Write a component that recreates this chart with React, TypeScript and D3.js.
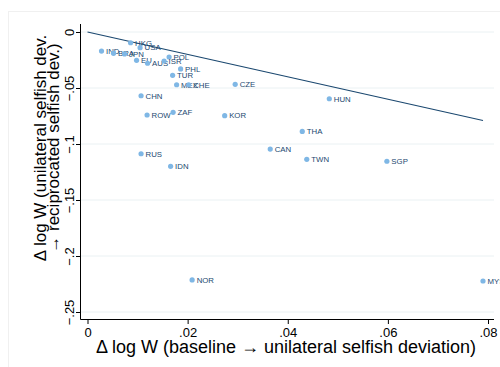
import * as d3 from "d3";
import React, { useEffect, useRef } from "react";

// country codes and the two welfare changes
const countries = [
  "HKG", "USA", "IND", "BRA", "JPN", "EU", "AUS", "POL", "ISR", "PHL",
  "TUR", "MEX", "CHE", "CZE", "CHN", "ROW", "ZAF", "KOR", "HUN", "THA",
  "CAN", "TWN", "RUS", "IDN", "SGP", "NOR", "MYS",
];
const unilateral = [
  0.0086, 0.0105, 0.0028, 0.0052, 0.0074, 0.0098, 0.012, 0.0163, 0.0153, 0.0186,
  0.017, 0.0178, 0.0202, 0.0295, 0.0107, 0.0119, 0.0171, 0.0274, 0.0483, 0.0429,
  0.0365, 0.0438, 0.0107, 0.0166, 0.0598, 0.0209, 0.079,
];
const reciprocated = [
  -0.0096, -0.014, -0.017, -0.019, -0.0196, -0.0253, -0.0279, -0.0223, -0.0259, -0.033,
  -0.0387, -0.0471, -0.0471, -0.0467, -0.0569, -0.0741, -0.0717, -0.0747, -0.0596, -0.0888,
  -0.1045, -0.1137, -0.1087, -0.1199, -0.1154, -0.2214, -0.2223,
];
const xTicks = [0, 0.02, 0.04, 0.06, 0.08];
const yTicks = [0, -0.05, -0.1, -0.15, -0.2, -0.25];

const fmt = (d: number) => (d === 0 ? "0" : d3.format(".2~f")(d).replace("0.", "."));

const App = () => {
  const svgRef = useRef<SVGSVGElement>(null);

  const renderSVG = () => {
    const dims = { width: 500, height: 367, left: 80.5, right: 494, top: 24, bottom: 319.5 };
    const font = "'Liberation Sans', Arial, Helvetica, sans-serif";
    const navy = "#1a476f";

    const x = d3.scaleLinear([0, 0.08], [87.5, 488]);
    const y = d3.scaleLinear([0, -0.25], [32, 312]);

    svgRef.current!.innerHTML = "";
    const svg = d3
      .select(svgRef.current)
      .attr("width", dims.width)
      .attr("height", dims.height)
      .attr("viewBox", [0, 0, dims.width, dims.height]);

    svg.append("rect").attr("width", dims.width).attr("height", dims.height).attr("fill", "#fff");
    // faint graph region outline
    svg
      .append("rect")
      .attr("x", 8.5)
      .attr("y", 11.5)
      .attr("width", 520)
      .attr("height", 400)
      .attr("fill", "none")
      .attr("stroke", "#f0f0f0");

    // grid
    svg
      .append("g")
      .selectAll("line")
      .data(yTicks)
      .join("line")
      .attr("x1", dims.left)
      .attr("x2", dims.right)
      .attr("y1", (d) => y(d))
      .attr("y2", (d) => y(d))
      .attr("stroke", "#eaf1f3")
      .attr("stroke-width", 1);

    // y axis
    const yAxis = d3.axisLeft(y).tickValues(yTicks).tickSize(4.5).tickSizeOuter(0).tickFormat((d) => fmt(+d));
    svg
      .append("g")
      .attr("transform", `translate(${dims.left},0)`)
      .call(yAxis)
      .call((g) => {
        g.select(".domain").attr("d", `M0,${dims.top}V${dims.bottom}`).attr("stroke", "#000");
        g.selectAll(".tick line").attr("stroke", "#000");
        g.selectAll(".tick text")
          .attr("x", null)
          .attr("dy", null)
          .attr("text-anchor", "middle")
          .attr("transform", "translate(-7,0) rotate(-90)")
          .attr("font-family", font)
          .attr("font-size", 13)
          .attr("fill", "#000");
      });

    // x axis
    const xAxis = d3.axisBottom(x).tickValues(xTicks).tickSize(4.5).tickSizeOuter(0).tickFormat((d) => fmt(+d));
    svg
      .append("g")
      .attr("transform", `translate(0,${dims.bottom})`)
      .call(xAxis)
      .call((g) => {
        g.select(".domain").attr("d", `M${dims.left},0H${dims.right}`).attr("stroke", "#000");
        g.selectAll(".tick line").attr("stroke", "#000");
        g.selectAll(".tick text")
          .attr("y", 17.5)
          .attr("dy", null)
          .attr("font-family", font)
          .attr("font-size", 13)
          .attr("fill", "#000");
      });

    // 45 degree line from 0 to the largest unilateral change
    const xMax = d3.max(unilateral)!;
    const line = d3
      .line<number>()
      .x((d) => x(d))
      .y((d) => y(-d));
    svg
      .append("path")
      .attr("d", line([0, xMax]))
      .attr("fill", "none")
      .attr("stroke", navy)
      .attr("stroke-width", 1.2);

    // points and labels
    const pts = svg
      .append("g")
      .selectAll("g")
      .data(countries)
      .join("g")
      .attr("transform", (d, i) => `translate(${x(unilateral[i])},${y(reciprocated[i])})`);
    pts.append("circle").attr("r", 2.6).attr("fill", "#7fb7e5");
    pts
      .append("text")
      .attr("x", 4.5)
      .attr("dy", "0.36em")
      .attr("font-family", font)
      .attr("font-size", 7.8)
      .attr("fill", navy)
      .text((d) => d);

    // axis titles
    svg
      .append("text")
      .attr("x", 286)
      .attr("y", 353)
      .attr("text-anchor", "middle")
      .attr("font-family", font)
      .attr("font-size", 18)
      .attr("fill", "#000")
      .text("\u0394 log W (baseline \u2192 unilateral selfish deviation)");

    const yTitle = svg
      .append("text")
      .attr("transform", "translate(45.5,148) rotate(-90)")
      .attr("text-anchor", "middle")
      .attr("font-family", font)
      .attr("font-size", 17)
      .attr("fill", "#000");
    yTitle.append("tspan").attr("x", 0).attr("y", 0).text("\u0394 log W (unilateral selfish dev.");
    yTitle.append("tspan").attr("x", 0).attr("y", 13.5).text("\u2192 reciprocated selfish dev.)");
  };

  useEffect(() => {
    renderSVG();
  });

  return <svg ref={svgRef} style={{ position: "absolute", left: 0, top: 0 }} />;
};

export default App;
